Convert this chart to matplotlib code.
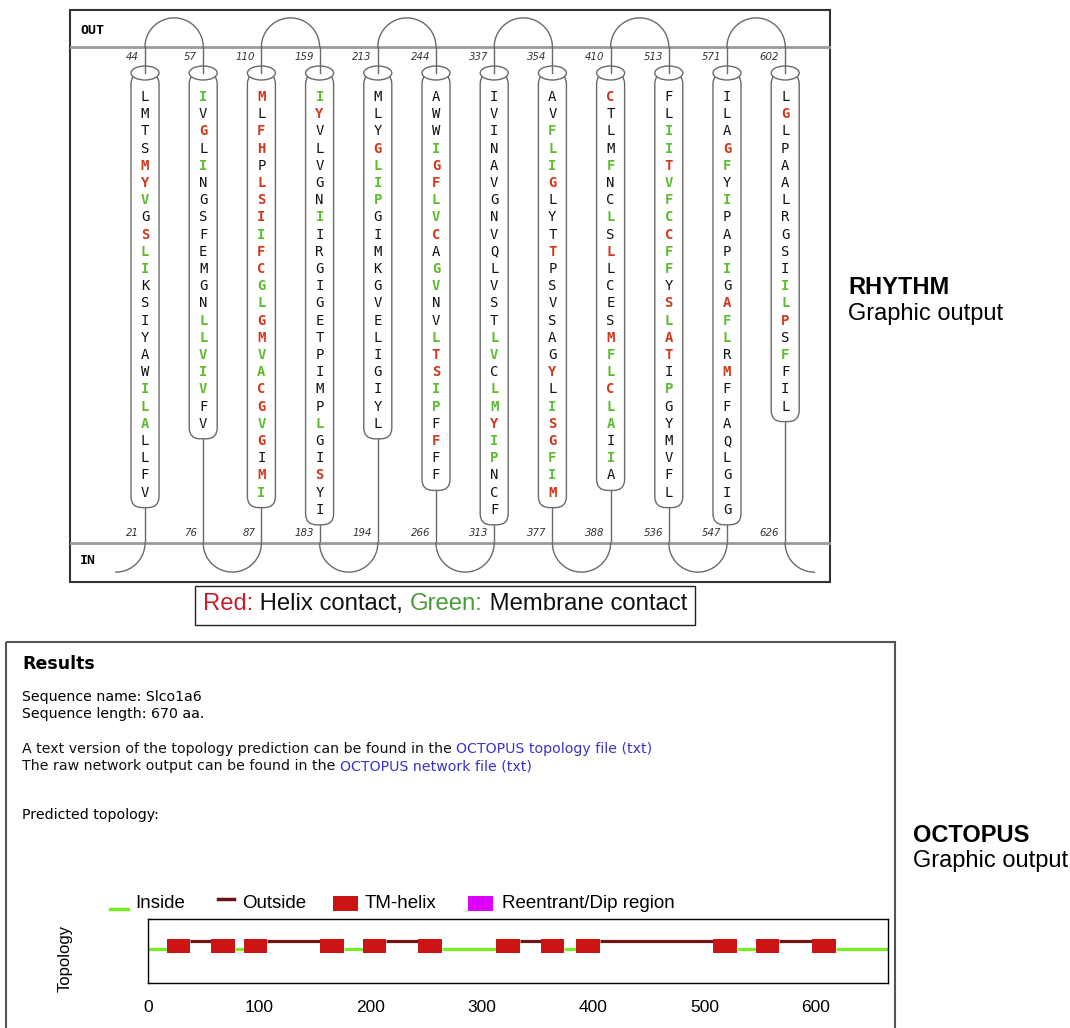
import matplotlib
matplotlib.use('Agg')
import matplotlib.pyplot as plt
import numpy as np
from matplotlib.patches import FancyBboxPatch, Ellipse, Rectangle
from matplotlib import font_manager

# RHYTHM helices, read top to bottom; colour code per residue: k black, r helix contact, g membrane contact
helix_seq = [
    "LMTSMYVGSLIKSIYAWILALLFV",
    "IVGLINGSFEMGNLLVIVFV",
    "MLFHPLSIIFCGLGMVACGVGIMI",
    "IYVLVGNIIRGIGETPIMPLGISYI",
    "MLYGLIPGIMKGVELIGIYL",
    "AWWIGFLVCAGVNVLTSIPFFFF",
    "IVINAVGNVQLVSTLVCLMYIPNCF",
    "AVFLIGLYTTPSVSAGYLISGFIM",
    "CTLMFNCLSLLCESMFLCLAIIA",
    "FLIITVFCCFFYSLATIPGYMVFL",
    "ILAGFYIPAPIGAFLRMFFAQLGIG",
    "LGLPAALRGSIILPSFFIL",
]
helix_col = [
    "kkkkrrgkrggkkkkkkgggkkkk",
    "gkrkgkkkkkkkkgggggkk",
    "rkrrkrrrgrrggrrggrrgrkrg",
    "grkkkkkgkkkkkkkkkkkgkkrkk",
    "kkkrgggkkkkkkkkkkkkk",
    "kkkgrrggrkggkkgrrggkrkk",
    "kkkkkkkkkkkkkkggkggrggkkk",
    "kkgggrkkkrkkkkkkrkgrrggr",
    "rkkkgkkgkrkkkkrggrggkgk",
    "kkggrgggrggkrgrrkgkkkkkk",
    "kkkrgkgkkkgkrggkrkkkkkkkk",
    "krkkkkkkkkkggrkgkkk",
]
num_top = [44, 57, 110, 159, 213, 244, 337, 354, 410, 513, 571, 602]
num_bot = [21, 76, 87, 183, 194, 266, 313, 377, 388, 536, 547, 626]

# OCTOPUS predicted TM helices (residue ranges)
tm_start = [17, 57, 86, 155, 193, 243, 313, 353, 385, 508, 546, 597]
tm_end = [38, 78, 107, 176, 214, 264, 334, 374, 406, 529, 567, 618]
seq_len = 670
topo_ticks = [0, 100, 200, 300, 400, 500, 600]

names = {f.name for f in font_manager.fontManager.ttflist}
narrow = 'Liberation Sans Narrow' if 'Liberation Sans Narrow' in names else 'Liberation Sans'

RED = '#d0391c'
GREEN = '#5dbb2f'
LINE = '#6a6a6a'

fig = plt.figure(figsize=(10.70, 10.28), dpi=100)
ax = fig.add_axes([0, 0, 1, 1])
ax.set_xlim(0, 1070)
ax.set_ylim(1028, 0)
ax.axis('off')
renderer = fig.canvas.get_renderer()


def text_width(s, **kw):
    t = ax.text(0, 0, s + '|', **kw)
    w1 = t.get_window_extent(renderer).width
    t.remove()
    t = ax.text(0, 0, '|', **kw)
    w2 = t.get_window_extent(renderer).width
    t.remove()
    return w1 - w2


def rich(x, y, parts, **kw):
    for s, c, w in parts:
        ax.text(x, y, s, color=c, fontweight=w, ha='left', va='center', **kw)
        x += text_width(s, fontweight=w, **kw)


# ---------------- RHYTHM panel ----------------
ax.add_patch(Rectangle((70, 10), 760, 572, fill=False, ec='#333333', lw=1.5))
y_out, y_in = 47, 543
ax.plot([71, 829], [y_out, y_out], color='#9a9a9a', lw=2)
ax.plot([71, 829], [y_in, y_in], color='#9a9a9a', lw=2)
ax.text(80, 30, 'OUT', fontsize=9.5, fontweight='bold', family='DejaVu Sans Mono', va='center')
ax.text(80, 560, 'IN', fontsize=9.5, fontweight='bold', family='DejaVu Sans Mono', va='center')

x0, dx = 145, 58.2
r = dx / 2
hx = [x0 + i * dx for i in range(len(helix_seq))]
top = 73
for i, (seq, col) in enumerate(zip(helix_seq, helix_col)):
    x = hx[i]
    ys = 97 + 17.2 * np.arange(len(seq))
    bot = ys[-1] + 15
    ax.add_patch(FancyBboxPatch((x - 14, top), 28, bot - top,
                                boxstyle='round,pad=0,rounding_size=11',
                                fc='white', ec=LINE, lw=1, zorder=2))
    ax.add_patch(Ellipse((x, top), 28, 14, fc='white', ec=LINE, lw=1, zorder=3))
    ax.plot([x, x], [y_out, top], color=LINE, lw=1, zorder=4)
    ax.plot([x, x], [bot, y_in], color=LINE, lw=1, zorder=1)
    for ch, c, y in zip(seq, col, ys):
        colour = {'k': '#111111', 'r': RED, 'g': GREEN}[c]
        ax.text(x, y, ch, color=colour, fontsize=10, family='DejaVu Sans Mono',
                fontweight='normal' if c == 'k' else 'bold',
                ha='center', va='center', zorder=5)
    ax.text(x - 6, 57, str(num_top[i]), fontsize=7.3, style='italic',
            ha='right', va='center', color='#333333')
    ax.text(x - 6, 533, str(num_bot[i]), fontsize=7.3, style='italic',
            ha='right', va='center', color='#333333')

t = np.linspace(0, np.pi, 60)
for i in range(0, len(hx), 2):
    cx = (hx[i] + hx[i + 1]) / 2
    ax.plot(cx + r * np.cos(t), y_out - r * np.sin(t), color=LINE, lw=1)
for i in range(1, len(hx) - 1, 2):
    cx = (hx[i] + hx[i + 1]) / 2
    ax.plot(cx + r * np.cos(t), y_in + r * np.sin(t), color=LINE, lw=1)
q = np.linspace(0, np.pi / 2, 30)
ax.plot(hx[0] - r + r * np.cos(q), y_in + r * np.sin(q), color=LINE, lw=1)
ax.plot(hx[-1] + r - r * np.cos(q), y_in + r * np.sin(q), color=LINE, lw=1)

# legend box
ax.add_patch(Rectangle((195, 586), 500, 39, fill=False, ec='#222222', lw=1))
leg_parts = [('Red:', '#c8202a', 'normal'), (' Helix contact, ', '#111111', 'normal'),
             ('Green:', '#4c9a3c', 'normal'), (' Membrane contact', '#111111', 'normal')]
kw = dict(fontsize=17.2, family='Liberation Sans')
total = sum(text_width(s, fontweight=w, **kw) for s, c, w in leg_parts)
rich(445 - total / 2, 604, leg_parts, **kw)

ax.text(848, 287, 'RHYTHM', fontsize=17, fontweight='bold', family='Liberation Sans', va='center')
ax.text(848, 314, 'Graphic output', fontsize=17, family='Liberation Sans', va='center')
ax.text(913, 835, 'OCTOPUS', fontsize=17, fontweight='bold', family='Liberation Sans', va='center')
ax.text(913, 861, 'Graphic output', fontsize=17, family='Liberation Sans', va='center')

# ---------------- OCTOPUS panel ----------------
ax.add_patch(Rectangle((6, 642), 889, 420, fill=False, ec='#555555', lw=1.5))
ax.text(22, 664, 'Results', fontsize=12.5, fontweight='bold', family='DejaVu Sans', va='center')
kw = dict(fontsize=10.2, family='DejaVu Sans')
ax.text(22, 697, 'Sequence name: Slco1a6', va='center', **kw)
ax.text(22, 714, 'Sequence length: 670 aa.', va='center', **kw)
rich(22, 749, [('A text version of the topology prediction can be found in the ', '#111111', 'normal'),
               ('OCTOPUS topology file (txt)', '#3a34c8', 'normal')], **kw)
rich(22, 766, [('The raw network output can be found in the ', '#111111', 'normal'),
               ('OCTOPUS network file (txt)', '#3a34c8', 'normal')], **kw)
ax.text(22, 815, 'Predicted topology:', va='center', **kw)

# topology legend
ax.plot([110, 128], [909, 909], color='#77ee22', lw=2.5)
ax.text(135, 903, 'Inside', fontsize=13.5, family=narrow, va='center')
ax.plot([218, 234], [899, 899], color='#6e1414', lw=2.5)
ax.text(242, 903, 'Outside', fontsize=13.5, family=narrow, va='center')
ax.add_patch(Rectangle((333, 896), 25, 15, fc='#cc1414', ec='none'))
ax.text(365, 903, 'TM-helix', fontsize=13.5, family=narrow, va='center')
ax.add_patch(Rectangle((468, 896), 25, 15, fc='#dd00ff', ec='none'))
ax.text(502, 903, 'Reentrant/Dip region', fontsize=13.5, family=narrow, va='center')
ax.text(65, 958, 'Topology', fontsize=12, family='Liberation Sans', rotation=90,
        ha='center', va='center')

axt = fig.add_axes([148 / 1070, (1028 - 983) / 1028, 740 / 1070, 64 / 1028])
axt.set_xlim(0, 665)
axt.set_ylim(-1, 1)
# inside / outside loops between the helices
axt.hlines(0.05, 0, tm_start[0], color='#77ee22', lw=2.3)
for i in range(len(tm_start) - 1):
    if i % 2 == 0:
        axt.hlines(0.3, tm_end[i], tm_start[i + 1], color='#6e1414', lw=2.3)
    else:
        axt.hlines(0.05, tm_end[i], tm_start[i + 1], color='#77ee22', lw=2.3)
axt.hlines(0.05, tm_end[-1], seq_len, color='#77ee22', lw=2.3)
for s, e in zip(tm_start, tm_end):
    axt.add_patch(Rectangle((s, -0.07), e - s, 0.45, fc='#cc1414', ec='none', zorder=3))
axt.set_xticks(topo_ticks)
axt.set_xticklabels([str(v) for v in topo_ticks], fontsize=12.5, family=narrow)
axt.tick_params(axis='x', length=0, pad=12)
axt.set_yticks([-1, 1])
axt.set_yticklabels([])
axt.tick_params(axis='y', length=3, direction='in')
for sp in axt.spines.values():
    sp.set_linewidth(1)

fig.savefig('out.png', dpi=100)
